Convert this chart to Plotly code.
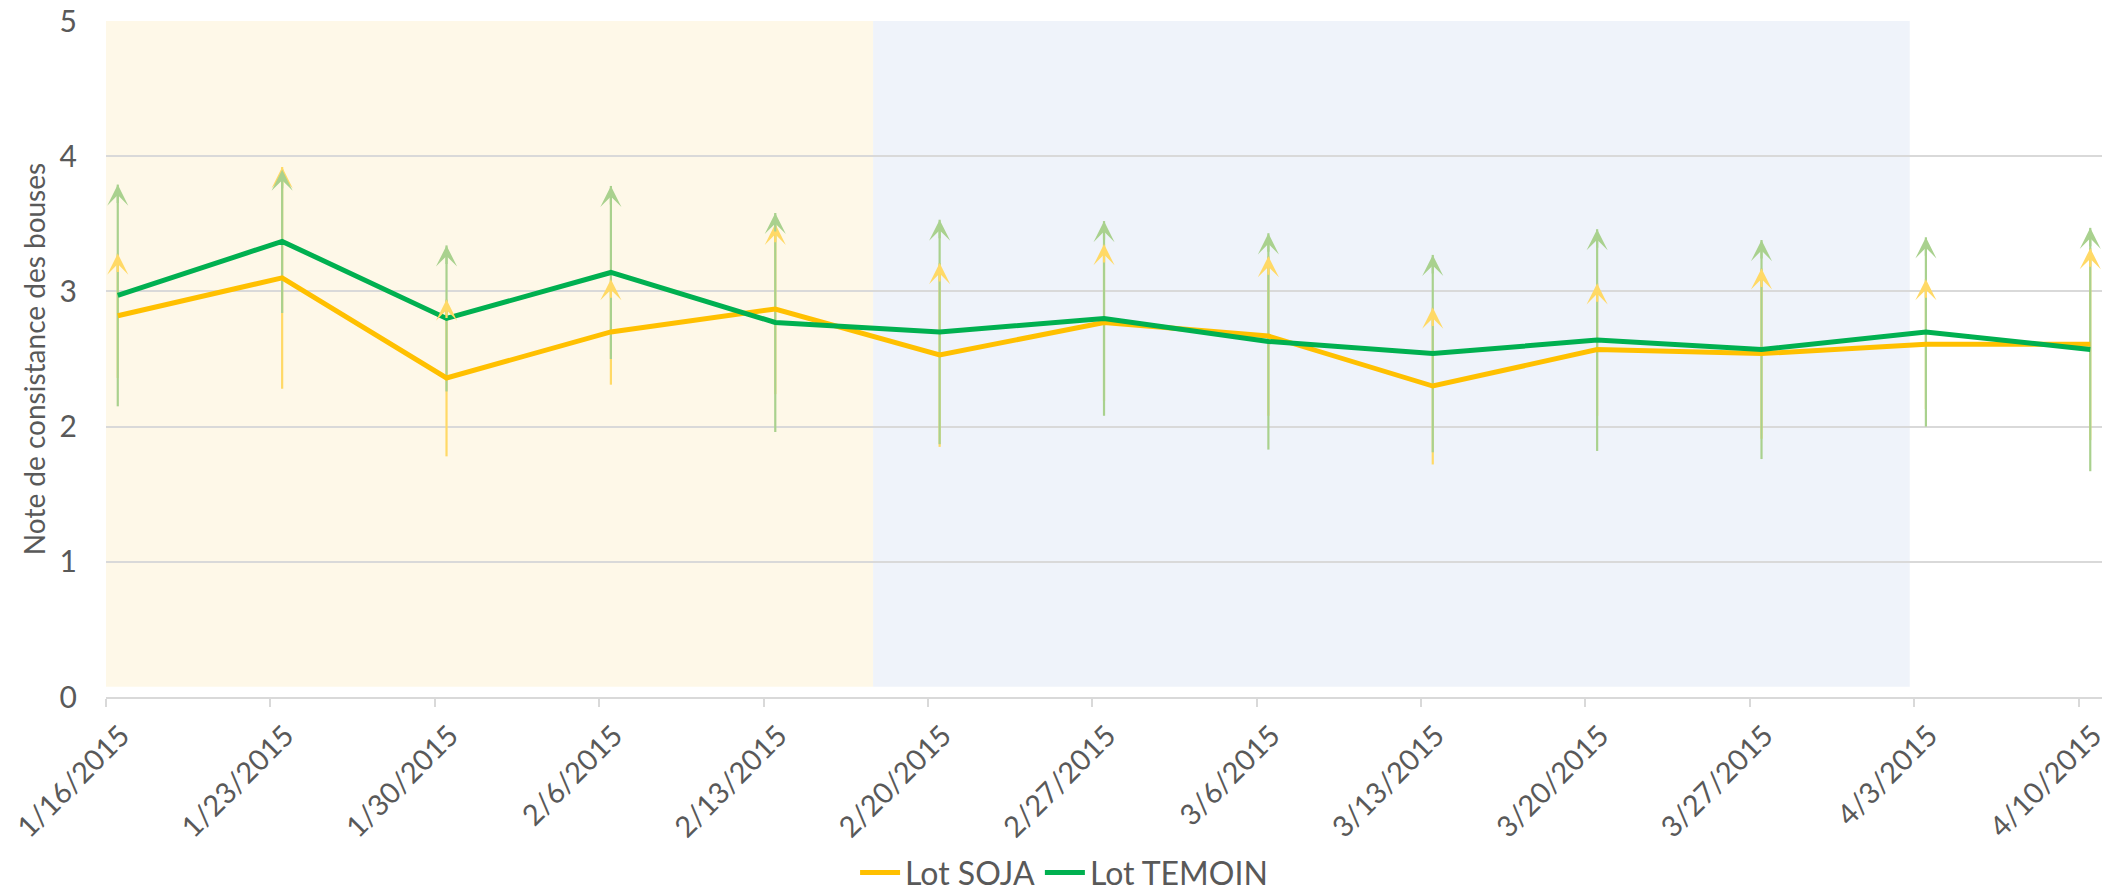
import pandas as pd
import plotly.graph_objects as go

# Weekly observation dates
dates = ["2015-01-16", "2015-01-23", "2015-01-30", "2015-02-06", "2015-02-13",
         "2015-02-20", "2015-02-27", "2015-03-06", "2015-03-13", "2015-03-20",
         "2015-03-27", "2015-04-03", "2015-04-10"]

# Mean stool-consistency score and standard deviation per group
soja_mean = [2.82, 3.10, 2.36, 2.70, 2.87, 2.53, 2.77, 2.67, 2.30, 2.57, 2.54, 2.61, 2.61]
soja_sd = [0.46, 0.82, 0.58, 0.39, 0.63, 0.68, 0.58, 0.59, 0.58, 0.49, 0.63, 0.48, 0.71]
temoin_mean = [2.97, 3.37, 2.80, 3.14, 2.77, 2.70, 2.80, 2.63, 2.54, 2.64, 2.57, 2.70, 2.57]
temoin_sd = [0.82, 0.53, 0.54, 0.64, 0.81, 0.83, 0.72, 0.80, 0.73, 0.82, 0.81, 0.70, 0.90]

# Feeding phases shown as shaded bands
phase_bounds = ["2015-01-16", "2015-02-17 16:00", "2015-04-02 19:30"]
phase_colors = ["#fef8e8", "#eff3fa"]

series = [
    ("Lot SOJA", soja_mean, soja_sd, "#ffc000", "#ffd966"),
    ("Lot TEMOIN", temoin_mean, temoin_sd, "#00b050", "#a9d18e"),
]

day = pd.to_datetime(dates)
x_mid = day + pd.Timedelta(hours=12)  # each point sits in the middle of its day slot
x_mid_str = [d.strftime("%Y-%m-%d %H:%M") for d in x_mid]
tick_text = [f"{d.month}/{d.day}/{d.year}" for d in day]
x_start = (day[0] - pd.Timedelta(minutes=2)).strftime("%Y-%m-%d %H:%M")
x_end = (day[-1] + pd.Timedelta(days=1)).strftime("%Y-%m-%d")

FONT = "Lato, 'Open Sans', sans-serif"
GREY = "#595959"

fig = go.Figure()

# Error bar shafts (mean - sd up to mean + sd)
for name, mean, sd, line_col, err_col in series:
    sx, sy = [], []
    for x, m, s in zip(x_mid_str, mean, sd):
        sx += [x, x, None]
        sy += [m - s, m + s, None]
    fig.add_trace(go.Scatter(x=sx, y=sy, mode="lines", showlegend=False,
                             hoverinfo="skip",
                             line=dict(color=err_col, width=2.2)))

# Mean lines
for name, mean, sd, line_col, err_col in series:
    fig.add_trace(go.Scatter(x=x_mid_str, y=mean, mode="lines", name=name,
                             line=dict(color=line_col, width=5)))

# Arrow heads at the top of each error bar
annotations = []
for name, mean, sd, line_col, err_col in series:
    for x, m, s in zip(x_mid_str, mean, sd):
        annotations.append(dict(x=x, y=m + s, xref="x", yref="y", ax=0, ay=20,
                                text="", showarrow=True, arrowhead=3,
                                arrowsize=1.6, arrowwidth=2.2,
                                arrowcolor=err_col))

shapes = []
for i, col in enumerate(phase_colors):
    shapes.append(dict(type="rect", xref="x", yref="y",
                       x0=phase_bounds[i], x1=phase_bounds[i + 1],
                       y0=0.075, y1=5, fillcolor=col, line=dict(width=0),
                       layer="below"))

fig.update_layout(
    width=2113, height=895,
    margin=dict(l=106, r=11, t=21, b=198, autoexpand=False),
    paper_bgcolor="white", plot_bgcolor="white",
    font=dict(family=FONT, color=GREY, size=28),
    shapes=shapes,
    annotations=annotations,
    showlegend=True,
    legend=dict(orientation="h", x=0.48, xanchor="center",
                yref="container", y=0.025, yanchor="middle",
                font=dict(size=32, color=GREY),
                itemwidth=40, bgcolor="rgba(0,0,0,0)"),
)

fig.update_xaxes(
    type="date", automargin=False,
    range=[x_start, x_end],
    tickmode="array", tickvals=dates, ticktext=tick_text,
    tickangle=-45, tickfont=dict(size=29, color=GREY),
    ticklabeloverflow="allow", ticklabelshift=15,
    showgrid=False, zeroline=False,
    showline=True, linecolor="#d9d9d9", linewidth=2,
    ticks="outside", ticklen=8, tickwidth=1.5, tickcolor="#d9d9d9",
)

fig.update_yaxes(
    range=[0, 5], dtick=1, tick0=0, automargin=False,
    showgrid=True, gridcolor="#d9d9d9", gridwidth=1.5,
    zeroline=False, showline=False, ticks="",
    tickfont=dict(size=30, color=GREY), ticklabelstandoff=28,
    title=dict(text="Note de consistance des bouses",
               font=dict(size=28, color=GREY), standoff=5),
)

fig.write_html("out.html")
